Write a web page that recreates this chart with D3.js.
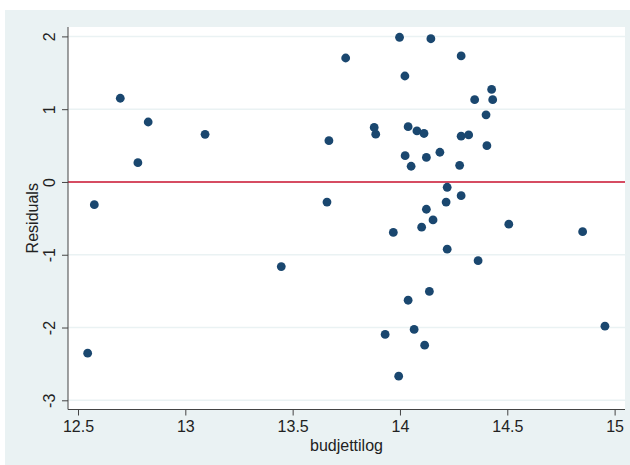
<!DOCTYPE html>
<html>
<head>
<meta charset="utf-8">
<script src="https://cdn.jsdelivr.net/npm/d3@7/dist/d3.min.js"></script>
<style>
  html, body { margin: 0; padding: 0; background: #ffffff; }
  svg { display: block; }
  text { font-family: "Liberation Sans", Arial, Helvetica, sans-serif; fill: #222; }
</style>
</head>
<body>
<svg id="chart" width="630" height="465"></svg>
<script>
// Residuals plotted against log budget
const budjettilog = [
  12.545, 12.576, 12.697, 12.827, 12.779, 13.092, 13.447, 13.660, 13.669, 13.747,
  13.880, 13.887, 13.998, 14.023, 14.038, 14.079, 14.112, 14.024, 14.052, 14.123,
  14.186, 14.144, 14.285, 14.427, 14.348, 14.432, 14.401, 14.285, 14.320, 14.405,
  14.278, 14.220, 14.285, 14.215, 14.123, 14.154, 14.101, 13.969, 14.507, 14.851,
  14.220, 14.364, 14.137, 14.038, 13.931, 14.066, 14.115, 13.994, 14.955
];
const residuals = [
  -2.353, -0.312, 1.150, 0.824, 0.265, 0.655, -1.163, -0.277, 0.567, 1.703,
  0.749, 0.657, 1.988, 1.456, 0.760, 0.701, 0.666, 0.361, 0.216, 0.337,
  0.408, 1.968, 1.731, 1.271, 1.130, 1.130, 0.923, 0.629, 0.646, 0.499,
  0.229, -0.073, -0.188, -0.277, -0.375, -0.522, -0.621, -0.694, -0.580, -0.683,
  -0.923, -1.082, -1.504, -1.625, -2.095, -2.026, -2.243, -2.668, -1.982
];
const xTicks = [12.5, 13, 13.5, 14, 14.5, 15];
const yTicks = [-3, -2, -1, 0, 1, 2];
const xTitle = "budjettilog";
const yTitle = "Residuals";
const refLine = 0;

const svg = d3.select("#chart");
const W = 630, H = 465;
const plot = { left: 68, right: 625, top: 27, bottom: 409.5 };

// graph region background
svg.append("rect")
  .attr("x", 5).attr("y", 10)
  .attr("width", W - 5).attr("height", H - 10)
  .attr("fill", "#EAF2F3");

// plot region
svg.append("rect")
  .attr("x", plot.left).attr("y", plot.top)
  .attr("width", plot.right - plot.left).attr("height", plot.bottom - plot.top)
  .attr("fill", "#ffffff");

const x = d3.scaleLinear()
  .domain([12.4534, 15.0484])
  .range([plot.left, plot.right]);
const y = d3.scaleLinear()
  .domain([-3.1264, 2.1291])
  .range([plot.bottom, plot.top]);

// horizontal grid lines
svg.append("g")
  .selectAll("line")
  .data(yTicks.filter(v => v !== refLine))
  .join("line")
  .attr("x1", plot.left).attr("x2", plot.right)
  .attr("y1", d => y(d)).attr("y2", d => y(d))
  .attr("stroke", "#EAF2F3")
  .attr("stroke-width", 1.5);

// reference line at zero
svg.append("line")
  .attr("x1", plot.left).attr("x2", plot.right)
  .attr("y1", y(refLine)).attr("y2", y(refLine))
  .attr("stroke", "#C8102E")
  .attr("stroke-width", 1.4);

// points
svg.append("g")
  .selectAll("circle")
  .data(budjettilog.map((v, i) => [v, residuals[i]]))
  .join("circle")
  .attr("cx", d => x(d[0]))
  .attr("cy", d => y(d[1]))
  .attr("r", 4.4)
  .attr("fill", "#1A476F");

// plain ASCII hyphen for negative tick labels
const fmt = d => String(d);

// y axis
const yAxis = svg.append("g")
  .attr("transform", `translate(${plot.left},0)`)
  .call(d3.axisLeft(y).tickValues(yTicks).tickSize(6).tickFormat(fmt));
yAxis.select(".domain").attr("stroke", "#444").attr("d", `M0,${plot.top}V${plot.bottom}`);
yAxis.selectAll(".tick line").attr("stroke", "#444");
yAxis.selectAll(".tick text")
  .attr("transform", "rotate(-90)")
  .attr("x", 0).attr("y", -13).attr("dy", 0)
  .attr("text-anchor", "middle")
  .style("font-size", "16px")
  .style("font-family", "'Liberation Sans', Arial, sans-serif")
  .attr("fill", "#222");

// x axis
const xAxis = svg.append("g")
  .attr("transform", `translate(0,${plot.bottom})`)
  .call(d3.axisBottom(x).tickValues(xTicks).tickSize(6).tickFormat(fmt));
xAxis.select(".domain").attr("stroke", "#444").attr("d", `M${plot.left},0H${plot.right}`);
xAxis.selectAll(".tick line").attr("stroke", "#444");
xAxis.selectAll(".tick text")
  .attr("y", 22.5).attr("dy", 0)
  .style("font-size", "16px")
  .style("font-family", "'Liberation Sans', Arial, sans-serif")
  .attr("fill", "#222");

// axis titles
svg.append("text")
  .attr("x", (plot.left + plot.right) / 2)
  .attr("y", 451)
  .attr("text-anchor", "middle")
  .style("font-size", "16px")
  .text(xTitle);

svg.append("text")
  .attr("transform", `translate(37.5,${(plot.top + plot.bottom) / 2}) rotate(-90)`)
  .attr("text-anchor", "middle")
  .style("font-size", "16px")
  .text(yTitle);
</script>
</body>
</html>
